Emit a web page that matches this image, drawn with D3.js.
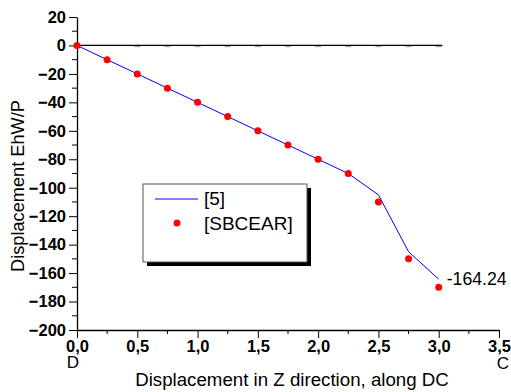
<!DOCTYPE html>
<html>
<head>
<meta charset="utf-8">
<script src="https://cdn.jsdelivr.net/npm/d3@7"></script>
<style>
  body { margin: 0; background: #fff; }
  svg { font-family: Arial, "Liberation Sans", sans-serif; }
</style>
</head>
<body>
<svg id="chart" width="511" height="392"></svg>
<script>
// data
let refX = [0, 0.25, 0.5, 0.75, 1.0, 1.25, 1.5, 1.75, 2.0, 2.25, 2.5, 2.75, 3.0];
let refY = [0, -10, -20, -30, -40, -50, -60, -70, -80, -90, -105, -145, -164.24];
let sbcearX = [0, 0.25, 0.5, 0.75, 1.0, 1.25, 1.5, 1.75, 2.0, 2.25, 2.5, 2.75, 3.0];
let sbcearY = [0, -10, -20, -30, -40, -50, -60, -70, -80, -90, -110, -150, -170];
let xTicks = [0, 0.5, 1.0, 1.5, 2.0, 2.5, 3.0, 3.5];
let yTicks = [20, 0, -20, -40, -60, -80, -100, -120, -140, -160, -180, -200];
let legendNames = ["[5]", "[SBCEAR]"];

let svg = d3.select('#chart');
let x = d3.scaleLinear().domain([0, 3.5]).range([77, 499]);
let y = d3.scaleLinear().domain([-200, 20]).range([330, 17]);
let fmt = d => d3.format('.1f')(d).replace('.', ',');

// x axis
let xAxis = svg.append('g').attr('transform', `translate(0,${y(-200)})`)
    .call(d3.axisBottom(x).tickValues(xTicks).tickFormat(fmt).tickSize(8).tickSizeOuter(0));
xAxis.append('g').selectAll('line')
    .data(d3.range(0.25, 3.5, 0.5)).join('line')
    .attr('x1', d => x(d)).attr('x2', d => x(d))
    .attr('y1', 0).attr('y2', 4).attr('stroke', '#000');

// y axis
let yAxis = svg.append('g').attr('transform', `translate(${x(0)},0)`)
    .call(d3.axisLeft(y).tickValues(yTicks).tickFormat(d3.format('d')).tickSize(8).tickSizeOuter(0));
yAxis.append('g').selectAll('line')
    .data(d3.range(-190, 20, 20)).join('line')
    .attr('x1', 0).attr('x2', -5)
    .attr('y1', d => y(d)).attr('y2', d => y(d)).attr('stroke', '#000');

svg.selectAll('.domain').attr('stroke', '#000').attr('stroke-width', 1.3);
svg.selectAll('.tick line').attr('stroke', '#000');
svg.selectAll('.tick text')
    .attr('font-family', 'Arial, "Liberation Sans", sans-serif')
    .attr('font-size', 16.5).attr('font-weight', 'bold').attr('fill', '#000');
xAxis.selectAll('.tick text').attr('y', 10).attr('dy', '0.72em');

// end letters under the x axis
svg.append('text').attr('x', x(0) - 4).attr('y', 368).attr('text-anchor', 'middle')
    .attr('font-size', 17).text('D');
svg.append('text').attr('x', x(3.5) + 4).attr('y', 369).attr('text-anchor', 'middle')
    .attr('font-size', 17).text('C');

// axis titles
svg.append('text').attr('x', 292).attr('y', 386).attr('text-anchor', 'middle')
    .attr('font-size', 18.7).text('Displacement in Z direction, along DC');
svg.append('text').attr('transform', 'translate(24,186) rotate(-90)')
    .attr('text-anchor', 'middle').attr('font-size', 18.2).text('Displacement EhW/P');

// zero line
svg.append('line').attr('x1', x(0)).attr('x2', x(3.03))
    .attr('y1', y(0)).attr('y2', y(0)).attr('stroke', '#000').attr('stroke-width', 1.3);
svg.append('g').selectAll('line')
    .data(d3.range(0.5, 3.01, 0.25)).join('line')
    .attr('x1', d => x(d) - 3).attr('x2', d => x(d) + 3)
    .attr('y1', y(0) + 1.2).attr('y2', y(0) + 1.2)
    .attr('stroke', '#999').attr('stroke-width', 1);

// reference line
let line = d3.line().x(d => x(d[0])).y(d => y(d[1]));
svg.append('path').datum(d3.zip(refX, refY))
    .attr('d', line).attr('fill', 'none').attr('stroke', '#0000ff').attr('stroke-width', 1);

// SBCEAR points
svg.append('g').selectAll('circle')
    .data(d3.zip(sbcearX, sbcearY)).join('circle')
    .attr('cx', d => x(d[0])).attr('cy', d => y(d[1])).attr('r', 3.5).attr('fill', '#ff0000');

// end value label
svg.append('text').attr('x', x(3.0) + 8).attr('y', y(refY[refY.length - 1]) + 6)
    .attr('font-size', 17.7).text(String(refY[refY.length - 1]));

// legend
let lg = svg.append('g').attr('transform', 'translate(143,184)');
lg.append('rect').attr('x', 4).attr('y', 4).attr('width', 164).attr('height', 78).attr('fill', '#000');
lg.append('rect').attr('x', 0).attr('y', 0).attr('width', 164).attr('height', 78)
    .attr('fill', '#fff').attr('stroke', '#555').attr('stroke-width', 1);
lg.append('line').attr('x1', 12).attr('x2', 55).attr('y1', 15).attr('y2', 15)
    .attr('stroke', '#0000ff').attr('stroke-width', 1);
lg.append('circle').attr('cx', 34).attr('cy', 39).attr('r', 3.5).attr('fill', '#ff0000');
lg.selectAll('text.name').data(legendNames).join('text').attr('class', 'name')
    .attr('x', 61).attr('y', (d, i) => 21 + i * 25).attr('font-size', 19).text(d => d);
</script>
</body>
</html>
